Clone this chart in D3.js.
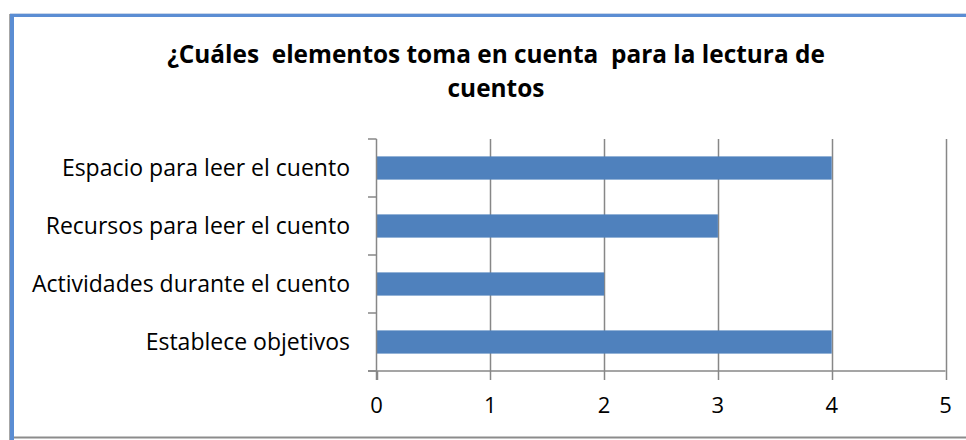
<!DOCTYPE html>
<html>
<head>
<meta charset="utf-8">
<script src="https://cdn.jsdelivr.net/npm/d3@7"></script>
<style>
	html, body { margin: 0; background: #fff; overflow: hidden; }
	svg { display: block; }
</style>
</head>
<body>
<div id="chart"></div>
<script>
	// Chart data.
	var categories = ['Espacio para leer el cuento', 'Recursos para leer el cuento', 'Actividades durante el cuento', 'Establece objetivos'];
	var values = [4, 3, 2, 4];
	var xTicks = [0, 1, 2, 3, 4, 5];
	var titleLines = ['¿Cuáles  elementos toma en cuenta  para la lectura de', 'cuentos'];

	var width = 966, height = 440;
	var font = '"Open Sans", "Liberation Sans", sans-serif';

	var svg = d3.select('#chart').append('svg')
		.attr('width', width)
		.attr('height', height);

	// Outer chart frame: blue on top and left, grey below.
	svg.append('line').attr('x1', 10).attr('x2', width).attr('y1', 13.5).attr('y2', 13.5)
		.attr('stroke', '#c9d6ea').attr('stroke-width', 1);
	svg.append('line').attr('x1', 10).attr('x2', width).attr('y1', 15.5).attr('y2', 15.5)
		.attr('stroke', '#5b8dd3').attr('stroke-width', 3);
	svg.append('line').attr('x1', 9.5).attr('x2', 9.5).attr('y1', 14).attr('y2', 440)
		.attr('stroke', '#a6a6a6').attr('stroke-width', 1);
	svg.append('line').attr('x1', 12).attr('x2', 12).attr('y1', 14).attr('y2', 440)
		.attr('stroke', '#5b8dd3').attr('stroke-width', 4);
	svg.append('line').attr('x1', 14).attr('x2', width).attr('y1', 437.5).attr('y2', 437.5)
		.attr('stroke', '#8c8c8c').attr('stroke-width', 2);

	// Title
	svg.append('g').selectAll('text')
		.data(titleLines)
		.join('text')
		.attr('x', 496)
		.attr('y', function (d, i) { return 62.5 + i * 34; })
		.attr('text-anchor', 'middle')
		.attr('font-family', font)
		.attr('font-weight', 'bold')
		.attr('font-size', 24.4)
		.attr('fill', '#000')
		.style('white-space', 'pre')
		.text(function (d) { return d; });

	var x = d3.scaleLinear().domain([0, 5]).range([376.5, 945.5]);
	var y = d3.scaleBand().domain(categories).range([139, 371]).paddingInner(0.6).paddingOuter(0.3);

	var grid = '#878787';

	// Vertical gridlines
	svg.append('g').selectAll('line')
		.data(xTicks.slice(1))
		.join('line')
		.attr('x1', function (d) { return Math.round(x(d)) + 0.5; })
		.attr('x2', function (d) { return Math.round(x(d)) + 0.5; })
		.attr('y1', 139)
		.attr('y2', 371)
		.attr('stroke', grid)
		.attr('stroke-width', 1.5);

	// Bars
	svg.append('g').selectAll('rect')
		.data(values)
		.join('rect')
		.attr('x', x(0))
		.attr('y', function (d, i) { return y(categories[i]); })
		.attr('width', function (d) { return x(d) - x(0); })
		.attr('height', y.bandwidth())
		.attr('fill', '#4f81bd');

	// Category axis
	var step = (371 - 139) / categories.length;
	var yAxis = svg.append('g');
	yAxis.append('line').attr('x1', 376.5).attr('x2', 376.5).attr('y1', 139).attr('y2', 380)
		.attr('stroke', grid).attr('stroke-width', 1.5);
	yAxis.selectAll('line.tick')
		.data(d3.range(categories.length + 1))
		.join('line')
		.attr('class', 'tick')
		.attr('x1', 368)
		.attr('x2', 376.5)
		.attr('y1', function (d) { return 139 + d * step; })
		.attr('y2', function (d) { return 139 + d * step; })
		.attr('stroke', grid).attr('stroke-width', 1.5);
	yAxis.selectAll('text')
		.data(categories)
		.join('text')
		.attr('x', 350)
		.attr('y', function (d) { return y(d) + y.bandwidth() / 2 + 8; })
		.attr('text-anchor', 'end')
		.attr('font-family', font)
		.attr('font-size', 23)
		.attr('fill', '#000')
		.text(function (d) { return d; });

	// Value axis
	var xAxis = svg.append('g');
	xAxis.append('line').attr('x1', 368).attr('x2', 945.5).attr('y1', 371).attr('y2', 371)
		.attr('stroke', grid).attr('stroke-width', 1.5);
	xAxis.selectAll('line.tick')
		.data(xTicks)
		.join('line')
		.attr('class', 'tick')
		.attr('x1', function (d) { return Math.round(x(d)) + 0.5; })
		.attr('x2', function (d) { return Math.round(x(d)) + 0.5; })
		.attr('y1', 371)
		.attr('y2', 380)
		.attr('stroke', grid).attr('stroke-width', 1.5);
	xAxis.selectAll('text')
		.data(xTicks)
		.join('text')
		.attr('x', function (d) { return x(d); })
		.attr('y', 413)
		.attr('text-anchor', 'middle')
		.attr('font-family', font)
		.attr('font-size', 22)
		.attr('fill', '#000')
		.text(function (d) { return d; });
</script>
</body>
</html>
